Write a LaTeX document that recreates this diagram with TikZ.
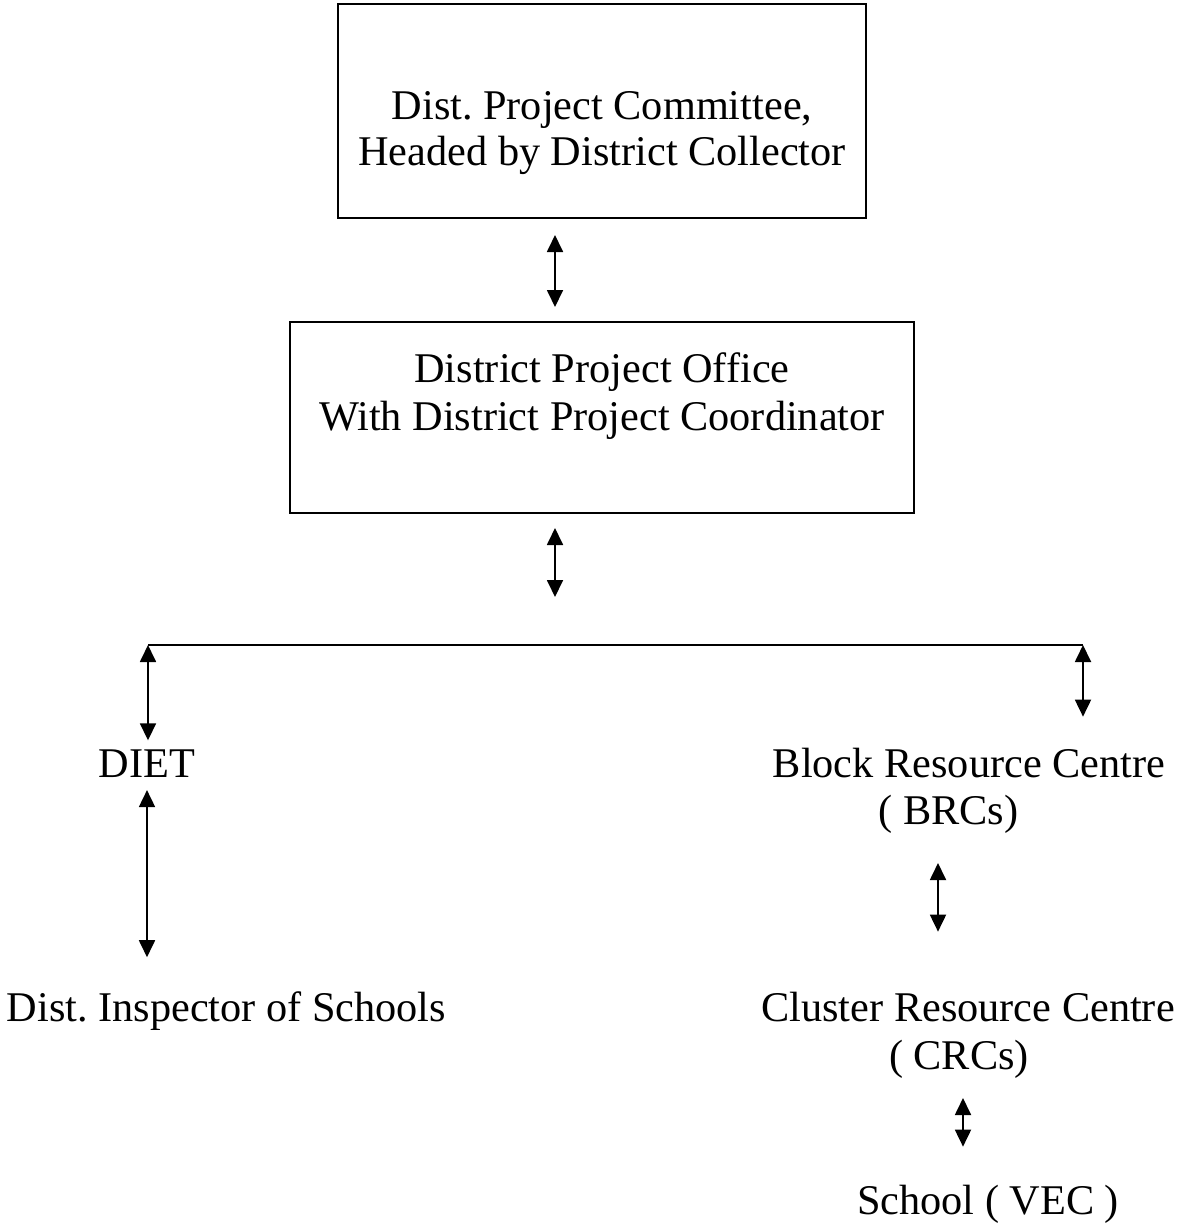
\documentclass[tikz,border=0pt]{standalone}
\usepackage{fontspec}
\setmainfont{Liberation Serif}
\usetikzlibrary{arrows.meta}
\begin{document}
\frenchspacing
\begin{tikzpicture}[x=1pt,y=-1pt,
  every node/.style={inner sep=0pt, outer sep=0pt, font=\fontsize{42.3}{48}\selectfont},
  box/.style={draw, line width=1.8pt, rectangle},
  txt/.style={anchor=base},
  dbl/.style={line width=1.8pt, {Triangle[length=17pt,width=16pt]}-{Triangle[length=17pt,width=16pt]}},
  plain/.style={line width=1.8pt}]
\useasboundingbox (0,0) rectangle (1190,1226);
% boxes
\node[box, minimum width=528pt, minimum height=214pt] (b1) at (602,111) {};
\node[box, minimum width=624pt, minimum height=191pt] (b2) at (602,417.5) {};
% box texts
\node[txt] (t1a) at (602,119) {Dist. Project Committee,};
\node[txt] (t1b) at (602,165) {Headed by District Collector};
\node[txt] (t2a) at (602,382) {District Project Office};
\node[txt] (t2b) at (602,430) {With District Project Coordinator};
% lower texts
\node[txt] (diet) at (147,777) {DIET};
\node[txt] (blk) at (969,777) {Block Resource Centre};
\node[txt] (brc) at (948.5,824) {( BRCs)};
\node[txt] (dis) at (226.5,1021) {Dist. Inspector of Schools};
\node[txt] (clu) at (968,1021) {Cluster Resource Centre};
\node[txt] (crc) at (959,1069) {( CRCs)};
\node[txt] (sch) at (988,1214) {School ( VEC )};
% junction coordinates
\coordinate (j) at (555,645);
\coordinate (hl) at (148,645);
\coordinate (hr) at (1083,645);
% connectors
\draw[dbl, shorten <=17pt, shorten >=15pt] ([xshift=-47pt]b1.south) -- ([xshift=-47pt]b2.north);
\draw[dbl, shorten <=15pt, shorten >=48pt] ([xshift=-47pt]b2.south) -- (j);
\draw[plain] (hl) -- (hr);
\draw[dbl, shorten >=9pt] (hl) -- (hl |- diet.north);
\draw[dbl, shorten >=31pt] (hr) -- (hr |- blk.north);
\draw[dbl, shorten <=13pt, shorten >=34pt] (diet.south) -- (diet.south |- dis.north);
\draw[dbl, shorten <=30pt, shorten >=60pt] ([xshift=-10.5pt]brc.south) -- ([xshift=-10.5pt]brc.south |- clu.north);
\draw[dbl, shorten <=20pt, shorten >=38pt] ([xshift=4pt]crc.south) -- ([xshift=4pt]crc.south |- sch.north);
\end{tikzpicture}
\end{document}
